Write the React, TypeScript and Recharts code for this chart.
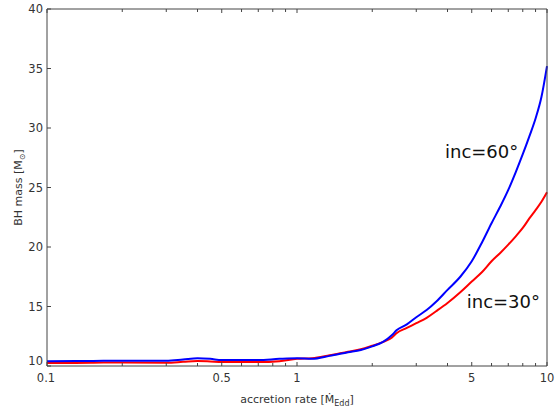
import React from 'react';
import { LineChart, Line, XAxis, YAxis, ReferenceDot } from 'recharts';

const rates = [0.1, 0.15, 0.2, 0.3, 0.35, 0.4, 0.45, 0.5, 0.7, 0.85, 1.0, 1.15, 1.35, 1.6, 1.8, 2.0, 2.2, 2.4, 2.5, 2.75, 3.0, 3.3, 3.6, 4.0, 4.5, 5.0, 5.5, 6.0, 6.5, 7.0, 7.5, 8.0, 8.5, 9.0, 9.5, 10];
const inc60 = [10.4, 10.42, 10.45, 10.45, 10.55, 10.65, 10.6, 10.5, 10.5, 10.6, 10.65, 10.6, 10.85, 11.15, 11.35, 11.65, 12.0, 12.6, 13.0, 13.5, 14.1, 14.7, 15.4, 16.4, 17.5, 18.8, 20.4, 22.0, 23.4, 24.8, 26.3, 27.8, 29.3, 30.8, 32.6, 35.2];
const inc30 = [10.25, 10.27, 10.3, 10.28, 10.35, 10.42, 10.38, 10.33, 10.33, 10.4, 10.6, 10.65, 10.9, 11.2, 11.4, 11.7, 12.0, 12.4, 12.75, 13.2, 13.6, 14.05, 14.6, 15.3, 16.2, 17.1, 17.9, 18.8, 19.5, 20.2, 20.9, 21.6, 22.4, 23.1, 23.8, 24.6];

const xTicks = [0.1, 0.2, 0.3, 0.4, 0.5, 0.6, 0.7, 0.8, 0.9, 1, 2, 3, 4, 5, 6, 7, 8, 9, 10];
const xLabeled = [0.1, 0.5, 1, 5, 10];
const yTicks = [10, 15, 20, 25, 30, 35, 40];

const data = rates.map((r, i) => ({ rate: r, inc60: inc60[i], inc30: inc30[i] }));

const FONT = 'DejaVu Sans, Bitstream Vera Sans, sans-serif';
const AXIS = '#444';
const TXT = '#333';

const BottomTick = (props: any) => {
  const { x, y, payload } = props;
  const v = payload.value;
  const major = xLabeled.includes(v);
  const len = major ? 4 : 3;
  return (
    <g>
      <line x1={x} x2={x} y1={y} y2={y - len} stroke={AXIS} strokeWidth={1} />
      {major && (
        <text x={x + (v === 0.1 ? -1 : 0)} y={y + 16} textAnchor="middle" fontSize={11.5} fill={TXT} fontFamily={FONT}>
          {String(v)}
        </text>
      )}
    </g>
  );
};

const TopTick = (props: any) => {
  const { x, y, payload } = props;
  const major = xLabeled.includes(payload.value);
  const len = major ? 4 : 3;
  return <line x1={x} x2={x} y1={y} y2={y + len} stroke={AXIS} strokeWidth={1} />;
};

const LeftTick = (props: any) => {
  const { x, y, payload } = props;
  const v = payload.value;
  return (
    <g>
      <line x1={x} x2={x + 4} y1={y} y2={y} stroke={AXIS} strokeWidth={1} />
      <text x={x - 4} y={y + (v === 10 ? -1 : 4)} textAnchor="end" fontSize={11.5} fill={TXT} fontFamily={FONT}>
        {String(v)}
      </text>
    </g>
  );
};

const RightTick = (props: any) => {
  const { x, y } = props;
  return <line x1={x} x2={x - 4} y1={y} y2={y} stroke={AXIS} strokeWidth={1} />;
};

const XLabel = (props: any) => {
  const vb = props.viewBox;
  const cx = vb.x + vb.width / 2;
  const cy = vb.y + 37;
  return (
    <text x={cx} y={cy} textAnchor="middle" fontSize={11} fill={TXT} fontFamily={FONT}>
      accretion rate [Ṁ<tspan dy={3} fontSize={8}>Edd</tspan><tspan dy={-3}>]</tspan>
    </text>
  );
};

const YLabel = (props: any) => {
  const vb = props.viewBox;
  const cx = 22;
  const cy = vb.y + vb.height / 2;
  return (
    <text x={cx} y={cy} transform={`rotate(-90, ${cx}, ${cy})`} textAnchor="middle" fontSize={11} fill={TXT} fontFamily={FONT}>
      BH mass [M<tspan dy={3} fontSize={8}>⊙</tspan><tspan dy={-3}>]</tspan>
    </text>
  );
};

const makeNote = (txt: string) => (props: any) => {
  const vb = props.viewBox;
  const cx = vb.x + vb.width / 2;
  const cy = vb.y + vb.height / 2;
  return (
    <text x={cx} y={cy} textAnchor="start" fontSize={18} fill="#111" fontFamily={FONT}>
      {txt}
    </text>
  );
};

export default function App() {
  return (
    <div style={{ position: 'absolute', left: 0, top: 0, background: '#fff' }}>
      <LineChart width={555} height={411} data={data} margin={{ top: 8, right: 7, bottom: 15, left: 7 }}>
        <XAxis
          xAxisId="b"
          dataKey="rate"
          type="number"
          scale="log"
          domain={[0.1, 10]}
          ticks={xTicks}
          interval={0}
          tick={<BottomTick />}
          tickLine={false}
          tickSize={0}
          tickMargin={0}
          axisLine={{ stroke: AXIS, strokeWidth: 1 }}
          height={30}
          label={{ content: XLabel }}
        />
        <XAxis
          xAxisId="t"
          orientation="top"
          dataKey="rate"
          type="number"
          scale="log"
          domain={[0.1, 10]}
          ticks={xTicks}
          interval={0}
          tick={<TopTick />}
          tickLine={false}
          tickSize={0}
          tickMargin={0}
          axisLine={{ stroke: AXIS, strokeWidth: 1 }}
          height={1}
        />
        <YAxis
          yAxisId="l"
          type="number"
          domain={[10, 40]}
          ticks={yTicks}
          interval={0}
          tick={<LeftTick />}
          tickLine={false}
          tickSize={0}
          tickMargin={0}
          axisLine={{ stroke: AXIS, strokeWidth: 1 }}
          width={40}
          label={{ content: YLabel }}
        />
        <YAxis
          yAxisId="r"
          orientation="right"
          type="number"
          domain={[10, 40]}
          ticks={yTicks}
          interval={0}
          tick={<RightTick />}
          tickLine={false}
          tickSize={0}
          tickMargin={0}
          axisLine={{ stroke: AXIS, strokeWidth: 1 }}
          width={1}
        />
        <Line xAxisId="b" yAxisId="l" type="monotone" dataKey="inc30" stroke="#ff0000" strokeWidth={2} dot={false} isAnimationActive={false} />
        <Line xAxisId="b" yAxisId="l" type="monotone" dataKey="inc60" stroke="#0000ff" strokeWidth={2} dot={false} isAnimationActive={false} />
        <ReferenceDot xAxisId="b" yAxisId="l" x={3.908} y={27.44} r={2} fill="none" stroke="none" label={{ content: makeNote('inc=60°') }} />
        <ReferenceDot xAxisId="b" yAxisId="l" x={4.774} y={14.87} r={2} fill="none" stroke="none" label={{ content: makeNote('inc=30°') }} />
      </LineChart>
    </div>
  );
}
